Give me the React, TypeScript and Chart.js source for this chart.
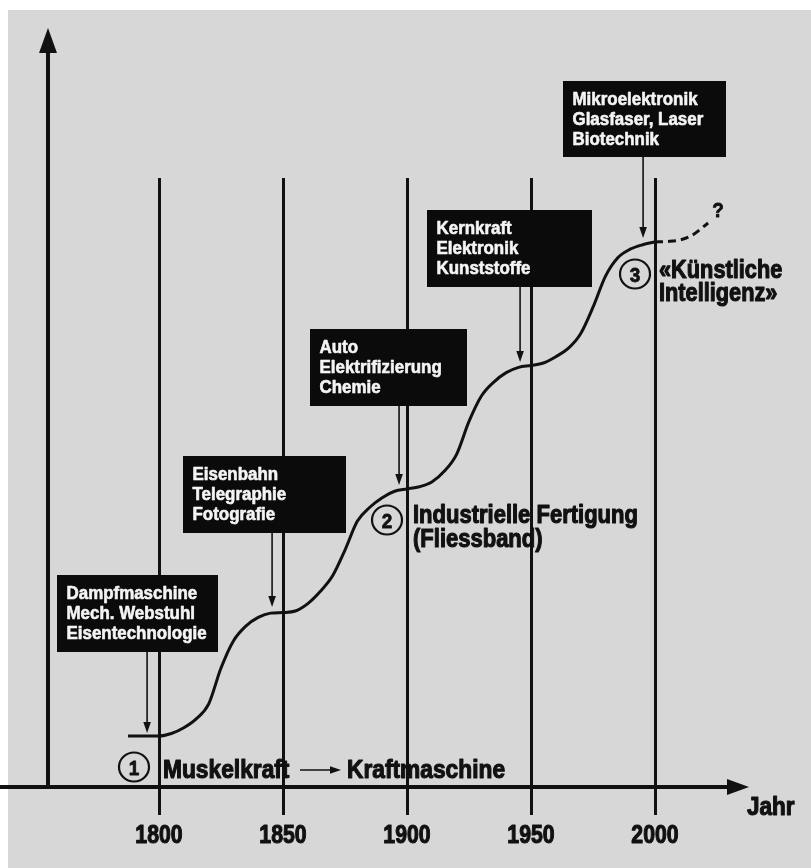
import React, { useEffect, useRef } from "react";
import { Chart, registerables } from "chart.js";

Chart.register(...registerables);

// ---------- data ----------
const tickYears = [1800, 1850, 1900, 1950, 2000];
const tickLabels = ["1800", "1850", "1900", "1950", "2000"];

// main S-curve (year, technology level)
const curveYears = [
  1787.5, 1800, 1805, 1810, 1815, 1820, 1825, 1830, 1835, 1840, 1845, 1850,
  1855, 1860, 1865, 1870, 1875, 1880, 1885, 1890, 1895, 1900,
  1905, 1910, 1915, 1920, 1925, 1930, 1935, 1940, 1945, 1950,
  1955, 1960, 1965, 1970, 1975, 1980, 1985, 1990, 1995, 2000,
];
const curveLevels = [
  0, 0, 0.02, 0.067, 0.139, 0.258, 0.55, 0.77, 0.89, 0.96, 0.995, 1.0,
  1.012, 1.072, 1.17, 1.297, 1.506, 1.74, 1.852, 1.93, 1.982, 2.0,
  2.018, 2.056, 2.143, 2.281, 2.547, 2.753, 2.866, 2.942, 2.985, 3.0,
  3.02, 3.071, 3.138, 3.257, 3.472, 3.722, 3.872, 3.942, 3.978, 4.0,
];

// dashed "?" continuation
const trendYears = [2000, 2005, 2010, 2015, 2021.4];
const trendLevels = [4.0, 4.004, 4.016, 4.055, 4.154];

// annotation boxes
const boxTexts = [
  ["Dampfmaschine", "Mech. Webstuhl", "Eisentechnologie"],
  ["Eisenbahn", "Telegraphie", "Fotografie"],
  ["Auto", "Elektrifizierung", "Chemie"],
  ["Kernkraft", "Elektronik", "Kunststoffe"],
  ["Mikroelektronik", "Glasfaser, Laser", "Biotechnik"],
];
const boxArrowYears = [1795.2, 1845.6, 1896.8, 1945.6, 1995.2];
const boxArrowLevels = [0.024, 1.045, 2.032, 3.028, 4.032];

// phases
const phaseNumbers = ["1", "2", "3"];
const phaseLines = [
  ["Muskelkraft", "Kraftmaschine"],
  ["Industrielle Fertigung", "(Fliessband)"],
  ["«Künstliche", "Intelligenz»"],
];
const axisLabel = "Jahr";
const questionMark = "?";

// ---------- layout (pixels) ----------
const W = 811;
const H = 868;
const PX_PER_YEAR = 2.48;
const PX_PER_LEVEL = 123.5;
const X_MIN = 1800 - 159 / PX_PER_YEAR;
const X_MAX = X_MIN + W / PX_PER_YEAR;
const Y_MAX = 736 / PX_PER_LEVEL;
const Y_MIN = Y_MAX - H / PX_PER_LEVEL;

const boxRects = [
  [57, 575, 161, 77],
  [183, 456, 163, 77],
  [310, 329, 157, 77],
  [427, 210, 165, 77],
  [563, 81, 163, 76],
];
const circleCenters = [
  [134, 767],
  [387, 520],
  [635, 274],
];

const INK = "#111111";
const BG = "#d7d7d7";
const FONT = '"Liberation Sans", Arial, Helvetica, sans-serif';

function drawText(
  ctx: CanvasRenderingContext2D,
  s: string,
  x: number,
  y: number,
  size: number,
  sx: number,
  align: "left" | "center" | "right" = "left",
  color = INK,
  heavy = 0.9
) {
  ctx.save();
  ctx.font = `bold ${size}px ${FONT}`;
  ctx.fillStyle = color;
  ctx.strokeStyle = color;
  ctx.lineJoin = "round";
  ctx.textAlign = "left";
  ctx.textBaseline = "alphabetic";
  const w = ctx.measureText(s).width * sx;
  let x0 = x;
  if (align === "center") x0 = x - w / 2;
  if (align === "right") x0 = x - w;
  ctx.translate(x0, y);
  ctx.scale(sx, 1);
  ctx.fillText(s, 0, 0);
  if (heavy > 0) {
    ctx.lineWidth = heavy;
    ctx.strokeText(s, 0, 0);
  }
  ctx.restore();
}

function arrowDown(ctx: CanvasRenderingContext2D, x: number, y0: number, tipY: number) {
  ctx.save();
  ctx.strokeStyle = INK;
  ctx.fillStyle = INK;
  ctx.lineWidth = 1.6;
  ctx.beginPath();
  ctx.moveTo(x, y0);
  ctx.lineTo(x, tipY - 8);
  ctx.stroke();
  ctx.beginPath();
  ctx.moveTo(x, tipY);
  ctx.lineTo(x - 3.8, tipY - 11);
  ctx.lineTo(x + 3.8, tipY - 11);
  ctx.closePath();
  ctx.fill();
  ctx.restore();
}

const decor = {
  id: "decor",
  beforeDraw(chart: any) {
    const ctx: CanvasRenderingContext2D = chart.ctx;
    ctx.save();
    ctx.fillStyle = "#ffffff";
    ctx.fillRect(0, 0, W, H);
    ctx.fillStyle = BG;
    ctx.fillRect(8, 10, W - 8, H - 10);
    ctx.restore();
  },
  beforeDatasetsDraw(chart: any) {
    const ctx: CanvasRenderingContext2D = chart.ctx;
    const xs = chart.scales.x;
    ctx.save();
    ctx.strokeStyle = INK;
    // vertical year lines
    ctx.lineWidth = 3;
    tickYears.forEach((yr) => {
      const px = Math.round(xs.getPixelForValue(yr)) + 0.5;
      ctx.beginPath();
      ctx.moveTo(px, 178);
      ctx.lineTo(px, 815);
      ctx.stroke();
    });
    // axes
    ctx.lineWidth = 4;
    ctx.beginPath();
    ctx.moveTo(48, 789);
    ctx.lineTo(48, 45);
    ctx.stroke();
    ctx.beginPath();
    ctx.moveTo(0, 787);
    ctx.lineTo(735, 787);
    ctx.stroke();
    ctx.fillStyle = INK;
    ctx.beginPath();
    ctx.moveTo(48, 28);
    ctx.lineTo(39, 53);
    ctx.lineTo(57, 53);
    ctx.closePath();
    ctx.fill();
    ctx.beginPath();
    ctx.moveTo(749, 787);
    ctx.lineTo(727, 779);
    ctx.lineTo(727, 795);
    ctx.closePath();
    ctx.fill();
    ctx.restore();

    // tick labels
    tickYears.forEach((yr, i) => {
      drawText(ctx, tickLabels[i], xs.getPixelForValue(yr), 843, 25, 0.85, "center", INK, 1.1);
    });
    drawText(ctx, axisLabel, 747, 815, 25, 0.9, "left", INK, 1.1);
  },
  afterDatasetsDraw(chart: any) {
    const ctx: CanvasRenderingContext2D = chart.ctx;
    const xs = chart.scales.x;
    const ys = chart.scales.y;

    // boxes + arrows
    boxTexts.forEach((lines, i) => {
      const [bx, by, bw, bh] = boxRects[i];
      ctx.save();
      ctx.fillStyle = "#0b0b0b";
      ctx.fillRect(bx, by, bw, bh);
      ctx.restore();
      lines.forEach((ln, j) => {
        drawText(ctx, ln, bx + 9.5, by + 24 + j * 20, 18, 0.94, "left", "#f4f4f4", 0.6);
      });
      const ax = xs.getPixelForValue(boxArrowYears[i]);
      const ay = ys.getPixelForValue(boxArrowLevels[i]);
      arrowDown(ctx, ax, by + bh, ay);
    });

    // phase circles
    circleCenters.forEach(([cx, cy], i) => {
      ctx.save();
      ctx.strokeStyle = INK;
      ctx.lineWidth = 2.2;
      ctx.beginPath();
      ctx.ellipse(cx, cy, 15, 14.5, 0, 0, Math.PI * 2);
      ctx.stroke();
      ctx.restore();
      drawText(ctx, phaseNumbers[i], cx, cy + 7.5, 21, 0.9, "center", INK, 0.8);
    });

    // phase 1 text
    drawText(ctx, phaseLines[0][0], 163, 778, 25, 0.91, "left", INK, 1.1);
    drawText(ctx, phaseLines[0][1], 347, 778, 25, 0.91, "left", INK, 1.1);
    ctx.save();
    ctx.strokeStyle = INK;
    ctx.fillStyle = INK;
    ctx.lineWidth = 1.6;
    ctx.beginPath();
    ctx.moveTo(300, 770);
    ctx.lineTo(333, 770);
    ctx.stroke();
    ctx.beginPath();
    ctx.moveTo(341, 770);
    ctx.lineTo(330, 766.2);
    ctx.lineTo(330, 773.8);
    ctx.closePath();
    ctx.fill();
    ctx.restore();

    // phase 2 text
    drawText(ctx, phaseLines[1][0], 413, 523, 25, 0.88, "left", INK, 1.1);
    drawText(ctx, phaseLines[1][1], 413, 547, 25, 0.88, "left", INK, 1.1);

    // phase 3 text
    drawText(ctx, phaseLines[2][0], 659, 278, 25, 0.87, "left", INK, 1.1);
    drawText(ctx, phaseLines[2][1], 659, 301, 25, 0.87, "left", INK, 1.1);

    // question mark
    drawText(ctx, questionMark, 718, 217, 21, 0.9, "center", INK, 0.8);
  },
};

export default function App() {
  const ref = useRef<HTMLCanvasElement | null>(null);

  useEffect(() => {
    document.body.style.margin = "0";
    const canvas = ref.current;
    if (!canvas) return;
    const chart = new Chart(canvas, {
      type: "line",
      data: {
        datasets: [
          {
            data: curveYears.map((x, i) => ({ x, y: curveLevels[i] })),
            borderColor: INK,
            borderWidth: 3,
            pointRadius: 0,
            fill: false,
            cubicInterpolationMode: "monotone",
            borderCapStyle: "butt",
            borderJoinStyle: "round",
          },
          {
            data: trendYears.map((x, i) => ({ x, y: trendLevels[i] })),
            borderColor: INK,
            borderWidth: 3,
            pointRadius: 0,
            fill: false,
            cubicInterpolationMode: "monotone",
            borderDash: [8, 5],
            borderCapStyle: "butt",
          },
        ],
      },
      options: {
        responsive: false,
        animation: false,
        events: [],
        layout: { padding: 0 },
        plugins: { legend: { display: false }, tooltip: { enabled: false } },
        scales: {
          x: { type: "linear", display: false, min: X_MIN, max: X_MAX },
          y: { type: "linear", display: false, min: Y_MIN, max: Y_MAX },
        },
      } as any,
      plugins: [decor],
    });
    return () => chart.destroy();
  }, []);

  return (
    <div style={{ position: "fixed", left: 0, top: 0, width: W, height: H }}>
      <canvas ref={ref} width={W} height={H} style={{ width: W, height: H, display: "block" }} />
    </div>
  );
}
